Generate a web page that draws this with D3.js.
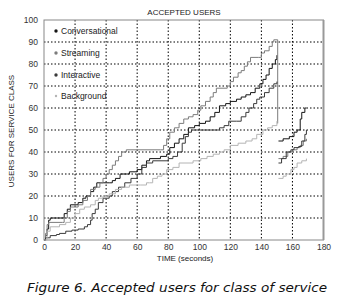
<!DOCTYPE html>
<html><head><meta charset="utf-8">
<script src="https://cdn.jsdelivr.net/npm/d3@7"></script>
<style>body{margin:0;background:#fff}svg{display:block}</style>
</head><body>
<svg id="c" width="339" height="298"></svg>
<script>
const xTicks = [0,20,40,60,80,100,120,140,160,180];
const yTicks = [0,10,20,30,40,50,60,70,80,90,100];
const seriesNames = ["Conversational","Streaming","Interactive","Background"];
const seriesColors = ["#141414","#7c7c7c","#3a3a3a","#b4b4b4"];

// [time, users] step points
const conversational = [[0,0],[1,2],[2,5],[3,9],[4,10],[12,10],[13,12],[15,14],[17,16],[22,17],[25,19],[27,20],[30,22],[32,24],[34,26],[42,26],[44,27],[46,28],[49,30],[55,31],[60,32],[63,34],[66,36],[68,37],[75,38],[79,39],[81,42],[84,44],[87,46],[90,48],[93,51],[97,52],[100,53],[104,54],[107,56],[110,58],[113,61],[117,62],[120,63],[124,64],[127,65],[130,66],[133,67],[136,69],[139,71],[141,73],[143,75],[145,78],[147,80],[149,82],[150,84]];
const conversational2 = [[151,45],[154,46],[158,47],[161,49],[163,50],[165,55],[166,58],[168,60],[169,60]];
const streaming = [[0,0],[1,3],[2,7],[3,8],[12,8],[13,10],[15,13],[17,15],[22,16],[25,18],[28,20],[30,23],[33,24],[36,26],[38,28],[40,30],[42,32],[44,34],[46,36],[48,38],[50,40],[53,41],[75,41],[77,43],[79,46],[81,49],[84,51],[87,53],[90,55],[93,56],[96,57],[99,59],[101,61],[104,63],[107,65],[109,67],[111,69],[118,70],[120,72],[122,74],[125,76],[127,77],[129,79],[131,81],[133,83],[138,83],[140,85],[142,86],[145,88],[147,90],[148,91],[150.5,91],[150.5,53],[150.6,53]];
const streaming2 = [[151,37],[154,38],[157,40],[160,41],[163,42],[165,43],[167,45],[169,46]];
const interactive = [[0,0],[1,1],[4,2],[8,2.5],[10,3],[14,4],[18,4.5],[22,5],[26,6],[28,7],[30,9],[31,12],[33,14],[35,17],[38,19],[42,20],[44,22],[48,24],[52,26],[56,28],[60,30],[63,33],[66,35],[70,36],[80,37],[83,38],[86,40],[89,44],[91,47],[93,49],[95,50],[110,50],[113,51],[116,52],[119,54],[124,54],[127,56],[130,58],[132,60],[135,62],[137,64],[139,65],[142,67],[145,69],[148,71],[150,72]];
const interactive2 = [[151,35],[153,37],[156,40],[159,41],[161,42],[164,42.5],[166,45],[168,48],[169,50]];
const background = [[0,0],[2,4],[4,6],[10,7],[14,8],[17,10],[20,12],[23,14],[26,15],[30,16],[33,18],[35,19],[38,20],[42,21],[46,23],[50,24],[55,25],[62,25],[66,26],[68,26],[70,28],[73,29],[76,30],[79,32],[83,33],[87,35],[96,36],[101,37],[105,38],[109,39],[113,40],[116,41],[120,43],[125,44],[130,45],[134,46],[137,48],[141,50],[144,51],[147,52],[150,54]];
const background2 = [[151,28],[154,29],[156,30],[159,32],[161,33],[163,35],[166,36],[169,37]];

const svg = d3.select("#c");
const M = {l:44, r:323.5, t:20, b:240};
const x = d3.scaleLinear().domain([0,180]).range([M.l, M.r]);
const y = d3.scaleLinear().domain([0,100]).range([M.b, M.t]);
const font = "'Liberation Sans', Arial, sans-serif";

// grid
const g = svg.append("g");
g.selectAll(".vg").data(xTicks.slice(1,-1)).enter().append("line")
  .attr("x1",d=>x(d)).attr("x2",d=>x(d)).attr("y1",M.t).attr("y2",M.b)
  .attr("stroke","#000").attr("stroke-width",1).attr("stroke-dasharray","1.5,2");
g.selectAll(".hg").data(yTicks.slice(1,-1)).enter().append("line")
  .attr("y1",d=>y(d)).attr("y2",d=>y(d)).attr("x1",M.l).attr("x2",M.r)
  .attr("stroke","#000").attr("stroke-width",1).attr("stroke-dasharray","1.5,2");

// frame
svg.append("rect").attr("x",M.l).attr("y",M.t).attr("width",M.r-M.l).attr("height",M.b-M.t)
  .attr("fill","none").attr("stroke","#888").attr("stroke-width",1);
svg.append("line").attr("x1",M.r).attr("x2",M.r).attr("y1",M.t).attr("y2",M.b)
  .attr("stroke","#999").attr("stroke-width",2);

// axes
const xAxis = d3.axisBottom(x).tickValues(xTicks).tickSize(0).tickPadding(4);
const yAxis = d3.axisLeft(y).tickValues(yTicks).tickSize(0).tickPadding(6);
const ax = svg.append("g").attr("transform",`translate(0,${M.b})`).call(xAxis);
const ay = svg.append("g").attr("transform",`translate(${M.l},0)`).call(yAxis);
[ax,ay].forEach(a=>{a.select(".domain").remove();
  a.selectAll("text").attr("font-family",font).attr("font-size",8.5).attr("fill","#333");});

// lines
const line = d3.line().x(d=>x(d[0])).y(d=>y(d[1])).curve(d3.curveStepAfter);
const all = [[conversational,0],[conversational2,0],[streaming,1],[streaming2,1],[interactive,2],[interactive2,2],[background,3],[background2,3]];
svg.append("g").selectAll("path").data(all).enter().append("path")
  .attr("d",d=>line(d[0])).attr("fill","none")
  .attr("stroke",d=>seriesColors[d[1]]).attr("stroke-width",1);

// legend
const legY = [31,53,75,96];
const lg = svg.append("g");
seriesNames.forEach((n,i)=>{
  lg.append("circle").attr("cx",56).attr("cy",legY[i]).attr("r",i===3?1.2:1.7).attr("fill",seriesColors[i]);
  lg.append("text").attr("x",61).attr("y",legY[i]+3).attr("font-family",font).attr("font-size",8.5)
    .attr("fill","#222").text(n);
});

// titles
svg.append("text").attr("x",184).attr("y",15).attr("text-anchor","middle").attr("font-family",font)
  .attr("font-size",8).attr("fill","#222").text("ACCEPTED USERS");
svg.append("text").attr("transform","translate(14,131) rotate(-90)").attr("text-anchor","middle")
  .attr("font-family",font).attr("font-size",8).attr("fill","#222").text("USERS FOR SERVICE CLASS");
svg.append("text").attr("x",185).attr("y",261).attr("text-anchor","middle").attr("font-family",font)
  .attr("font-size",8).attr("fill","#222").text("TIME (seconds)");
svg.append("text").attr("x",27).attr("y",292).attr("font-family","'DejaVu Sans', Verdana, sans-serif")
  .attr("font-style","italic").attr("font-size",12.5).attr("textLength",300).attr("lengthAdjust","spacingAndGlyphs")
  .attr("fill","#111").text("Figure 6. Accepted users for class of service");
</script>
</body></html>
